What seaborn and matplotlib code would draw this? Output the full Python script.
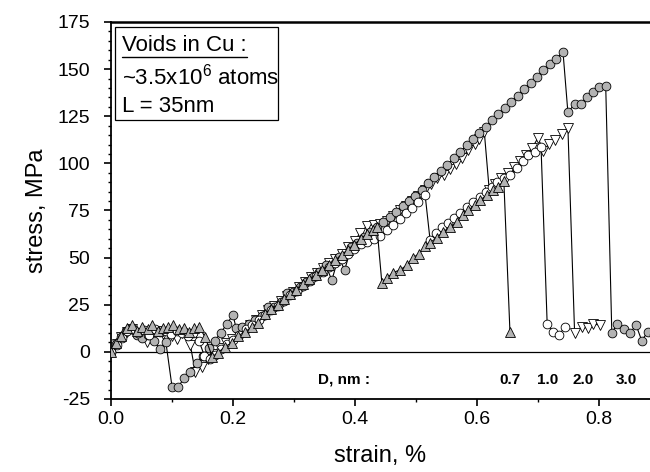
import numpy as np
import pandas as pd
import matplotlib
matplotlib.use('Agg')
import matplotlib.pyplot as plt
import seaborn as sns
from matplotlib.ticker import MultipleLocator
from matplotlib.patches import Rectangle
from matplotlib.lines import Line2D

# (strain %, stress MPa), one list per void diameter
d30 = [(0.000, 0), (0.008, 4), (0.016, 8), (0.024, 11), (0.033, 12), (0.042, 9), (0.050, 7.5),
       (0.060, 9), (0.070, 6), (0.080, 1.5), (0.090, 5), (0.100, -18.5), (0.110, -18.5),
       (0.120, -14), (0.130, -10.5), (0.141, -6), (0.151, -2), (0.160, 2), (0.170, 6),
       (0.180, 10), (0.190, 15), (0.200, 19.5), (0.205, 12.7), (0.215, 13), (0.226, 15),
       (0.236, 17), (0.247, 19), (0.257, 24), (0.268, 24), (0.278, 26.5), (0.289, 31.3),
       (0.299, 31.8), (0.310, 34.5), (0.320, 37), (0.331, 39.8), (0.341, 42.3), (0.352, 46),
       (0.362, 38), (0.373, 50.3), (0.383, 43.5), (0.394, 55.5), (0.404, 58), (0.415, 61),
       (0.425, 63.5), (0.436, 66.4), (0.446, 69), (0.457, 71.8), (0.467, 74.4), (0.478, 77.3),
       (0.488, 80), (0.499, 82.7), (0.509, 86), (0.520, 89.4), (0.530, 92.6), (0.541, 96),
       (0.551, 99.3), (0.562, 102.8), (0.572, 106), (0.583, 109.6), (0.593, 112.8),
       (0.604, 116.3), (0.614, 119.4), (0.625, 122.9), (0.635, 126), (0.646, 129.5),
       (0.656, 132.6), (0.667, 136), (0.677, 139.3), (0.688, 142.7), (0.698, 145.8),
       (0.709, 149.3), (0.719, 152.5), (0.730, 155.5), (0.741, 159), (0.749, 127),
       (0.760, 131.5), (0.771, 131.5), (0.780, 135), (0.790, 138), (0.800, 140.5),
       (0.811, 141), (0.821, 10), (0.830, 15), (0.841, 12), (0.850, 10), (0.861, 14),
       (0.870, 6), (0.880, 10.6), (0.890, 9)]

d20 = [(0.000, 0), (0.009, 4), (0.017, 8), (0.026, 10.5), (0.034, 12), (0.042, 10), (0.051, 8),
       (0.059, 5), (0.068, 9), (0.076, 11), (0.085, 9.5), (0.093, 10), (0.100, 8.5), (0.108, 7),
       (0.116, 10), (0.123, 9), (0.130, 3.7), (0.138, -10.6), (0.149, -8), (0.159, -4),
       (0.168, -1), (0.178, 2), (0.188, 4.5), (0.198, 7), (0.208, 9.5), (0.218, 12),
       (0.228, 14.5), (0.238, 17), (0.248, 19.5), (0.258, 22), (0.268, 24.5), (0.278, 27),
       (0.288, 29.5), (0.298, 32), (0.308, 34.5), (0.318, 37), (0.328, 39.5), (0.338, 42),
       (0.348, 44.5), (0.358, 47), (0.368, 49.5), (0.378, 52), (0.389, 55.7), (0.400, 59),
       (0.408, 63), (0.420, 67), (0.431, 67.5), (0.441, 68), (0.452, 69.5), (0.462, 72),
       (0.473, 75), (0.483, 77.5), (0.494, 80), (0.504, 82.5), (0.515, 86), (0.525, 89),
       (0.535, 92), (0.546, 94), (0.556, 97), (0.566, 99.5), (0.576, 103), (0.586, 107),
       (0.596, 110.5), (0.604, 113), (0.612, 116.5), (0.620, 86), (0.630, 89), (0.640, 92),
       (0.650, 95), (0.660, 98), (0.670, 101), (0.680, 104.5), (0.690, 108), (0.700, 113.5),
       (0.709, 106.5), (0.718, 110.5), (0.728, 112.5), (0.739, 115.5), (0.749, 119),
       (0.760, 10), (0.772, 13), (0.782, 12.7), (0.790, 15), (0.802, 14)]

d10 = [(0.000, 0), (0.009, 3.5), (0.018, 7.5), (0.027, 11), (0.036, 12), (0.045, 10),
       (0.054, 11.5), (0.063, 9), (0.072, 12), (0.081, 10.5), (0.090, 11), (0.099, 9.5),
       (0.108, 11), (0.117, 10), (0.126, 8.5), (0.135, 10), (0.144, 6), (0.153, -2),
       (0.162, -4), (0.171, -1.5), (0.180, 1.5), (0.190, 4), (0.200, 6.5), (0.210, 9),
       (0.221, 12), (0.231, 14.5), (0.242, 17), (0.252, 19.5), (0.263, 22), (0.273, 24.5),
       (0.284, 27), (0.294, 30), (0.305, 32.5), (0.315, 35), (0.326, 37.5), (0.336, 40),
       (0.347, 42.5), (0.357, 45), (0.368, 47), (0.378, 49.5), (0.389, 52), (0.399, 54.5),
       (0.410, 57), (0.420, 58.5), (0.431, 60), (0.441, 61.5), (0.452, 64.5), (0.462, 67.4),
       (0.473, 70.5), (0.483, 73.5), (0.494, 76.5), (0.504, 79.5), (0.515, 83), (0.523, 59.5),
       (0.533, 63), (0.543, 66), (0.552, 68.5), (0.562, 71), (0.572, 73.7), (0.583, 77),
       (0.593, 79.5), (0.605, 82), (0.614, 85), (0.624, 87.5), (0.633, 90), (0.644, 92),
       (0.654, 94), (0.665, 97.6), (0.676, 101), (0.684, 104.5), (0.695, 106), (0.705, 108.5),
       (0.715, 15), (0.725, 10.6), (0.734, 9), (0.744, 13)]

d07 = [(0.000, 0), (0.008, 4.5), (0.017, 8.5), (0.026, 12.5), (0.034, 14), (0.043, 11),
       (0.051, 13), (0.060, 12), (0.068, 14.5), (0.077, 11), (0.085, 12.5), (0.094, 13),
       (0.102, 14), (0.111, 12), (0.119, 12.5), (0.128, 10.5), (0.136, 12.5), (0.145, 13),
       (0.154, 8), (0.166, -2.6), (0.175, -0.5), (0.187, 2.7), (0.198, 4.9), (0.208, 8.5),
       (0.220, 10.6), (0.231, 13.3), (0.241, 15.4), (0.252, 20), (0.262, 22.5), (0.273, 25),
       (0.283, 28), (0.294, 30.5), (0.304, 33), (0.315, 36), (0.325, 38.5), (0.336, 41),
       (0.346, 43.5), (0.357, 46), (0.367, 48.5), (0.378, 51.5), (0.388, 54), (0.399, 56.8),
       (0.409, 60), (0.420, 62.5), (0.430, 64.5), (0.436, 66), (0.444, 36.6), (0.452, 39),
       (0.462, 42), (0.474, 43.5), (0.485, 46), (0.495, 50), (0.505, 52), (0.515, 56),
       (0.523, 58), (0.534, 60.5), (0.544, 63.7), (0.556, 66), (0.567, 69), (0.577, 72.7),
       (0.585, 75), (0.597, 78), (0.605, 80.6), (0.616, 83), (0.626, 86), (0.634, 87.5),
       (0.644, 90.7), (0.654, 10.6)]

d_labels = ['0.7', '1.0', '2.0', '3.0']
d_label_x = [0.654, 0.715, 0.774, 0.844]

sns.set_theme(style='ticks')
plt.rcParams['font.family'] = ['Liberation Sans', 'DejaVu Sans']
plt.rcParams['mathtext.default'] = 'regular'
plt.rcParams['axes.unicode_minus'] = False

fig = plt.figure(figsize=(6.5, 4.72), dpi=100)
ax = fig.add_axes([0.1708, 0.1547, 0.8292, 0.7987])

ax.axhline(0, color='black', lw=0.9, zorder=1)

grey = '#b3b3b3'
styles = [(d20, 'v', 'white', 6.8), (d30, 'o', grey, 6.3),
          (d10, 'o', 'white', 6.3), (d07, '^', grey, 6.8)]
for z, (pts, mk, fc, ms) in enumerate(styles):
    df = pd.DataFrame(pts, columns=['strain', 'stress'])
    sns.lineplot(data=df, x='strain', y='stress', sort=False, estimator=None, ax=ax,
                 color='black', linewidth=0.8, marker=mk, markersize=ms,
                 markerfacecolor=fc, markeredgecolor='black', markeredgewidth=0.6,
                 zorder=3 + z)

ax.set_xlim(0, 0.8836)
ax.set_ylim(-25, 175)
ax.xaxis.set_major_locator(MultipleLocator(0.2))
ax.xaxis.set_minor_locator(MultipleLocator(0.1))
ax.yaxis.set_major_locator(MultipleLocator(25))
ax.yaxis.set_minor_locator(MultipleLocator(5))
ax.xaxis.set_major_formatter(matplotlib.ticker.FormatStrFormatter('%.1f'))

ax.spines['right'].set_visible(False)
ax.spines['top'].set_linewidth(1.8)
ax.spines['left'].set_linewidth(1.3)
ax.spines['bottom'].set_linewidth(1.3)
for s in ax.spines.values():
    s.set_color('black')

ax.tick_params(axis='both', which='major', direction='out', length=5, width=1.2,
               labelsize=14, colors='black')
ax.tick_params(axis='both', which='minor', direction='out', length=2.5, width=1.0,
               colors='black')
ax.tick_params(axis='y', which='major', pad=10)
ax.tick_params(axis='x', which='major', pad=4)

ax.set_xlabel('strain, %', fontsize=17, labelpad=12, color='black')
ax.set_ylabel('stress, MPa', fontsize=17, labelpad=7, color='black')

# info box
ax.add_patch(Rectangle((0.0074, 0.740), 0.302, 0.2467, transform=ax.transAxes,
                       fill=False, lw=0.9, ec='black', zorder=10))
ax.text(0.0204, 0.924, 'Voids in Cu :', transform=ax.transAxes, fontsize=16,
        va='baseline', ha='left', color='black')
ax.add_line(Line2D([0.0204, 0.2523], [0.907, 0.907], transform=ax.transAxes,
                   color='black', lw=1.0))
ax.text(0.0204, 0.833, '~3.5x10$^6$ atoms', transform=ax.transAxes, fontsize=16,
        va='baseline', ha='left', color='black')
ax.text(0.0204, 0.762, 'L = 35nm', transform=ax.transAxes, fontsize=16,
        va='baseline', ha='left', color='black')

ax.text(0.382, -14.9, 'D, nm :', fontsize=11, fontweight='bold', ha='center',
        va='center', color='black')
for lab, xx in zip(d_labels, d_label_x):
    ax.text(xx, -14.9, lab, fontsize=11, fontweight='bold', ha='center', va='center',
            color='black')

fig.savefig('out.png', dpi=100)
